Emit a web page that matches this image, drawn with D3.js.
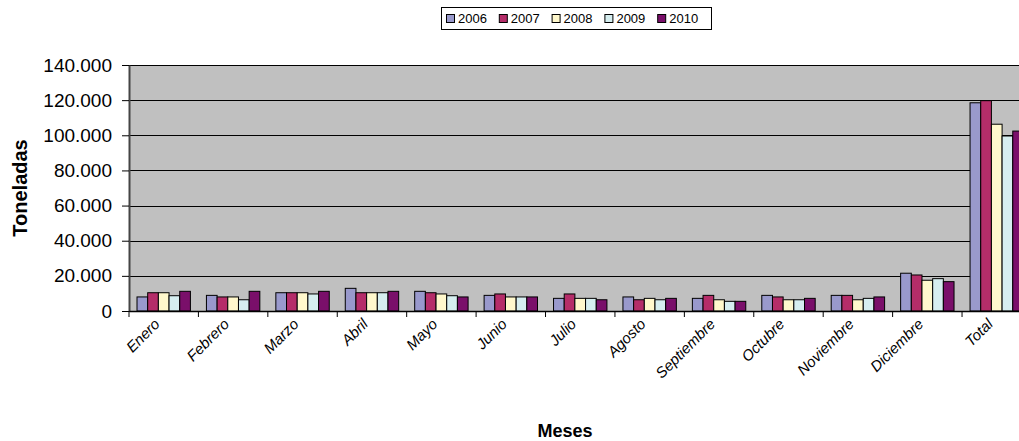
<!DOCTYPE html>
<html><head><meta charset="utf-8">
<script src="https://cdn.jsdelivr.net/npm/d3@7"></script>
<style>body{margin:0;background:#fff}svg{display:block;font-family:"Liberation Sans",Arial,sans-serif}</style>
</head><body>
<svg id="c" width="1019" height="441"></svg>
<script>
const categories = ["Enero","Febrero","Marzo","Abril","Mayo","Junio","Julio","Agosto","Septiembre","Octubre","Noviembre","Diciembre","Total"];
const series = ["2006","2007","2008","2009","2010"];
const v2006 = [8000, 8900, 10400, 12900, 11200, 8900, 7200, 8000, 7200, 8900, 8900, 21500, 118500];
const v2007 = [10400, 8000, 10400, 10400, 10400, 9700, 9700, 6400, 8900, 8000, 8900, 20500, 119700];
const v2008 = [10400, 8000, 10400, 10400, 9700, 8000, 7200, 7200, 6400, 6400, 6400, 17500, 106300];
const v2009 = [8700, 6400, 9700, 10400, 8700, 8000, 7200, 6400, 5500, 6400, 7200, 18400, 99600];
const v2010 = [11200, 11200, 11200, 11200, 8000, 8000, 6400, 7200, 5500, 7200, 8000, 16700, 102400];
const yTicks = [0, 20000, 40000, 60000, 80000, 100000, 120000, 140000];
const colors = ["#9999CC", "#B52D69", "#FFF8CC", "#D6EEF0", "#7A0F6A"];
const seriesValues = [v2006, v2007, v2008, v2009, v2010];

(function () {
const svg = d3.select("#c");
const pLeft = 129, pTop = 65, pBottom = 311, step = 69.42;
const pRight = pLeft + step * categories.length;

const x = d3.scaleBand().domain(categories).range([pLeft, pRight]).padding(0);
const xs = d3.scaleBand().domain(series).range([0, x.bandwidth()]).paddingInner(0).paddingOuter(0.75);
const y = d3.scaleLinear().domain([0, 140000]).range([pBottom, pTop]);
const loc = d3.formatLocale({decimal: ",", thousands: ".", grouping: [3], currency: ["", ""]});
const fmt = loc.format(",");

svg.append("rect").attr("x", pLeft).attr("y", pTop).attr("width", pRight - pLeft).attr("height", pBottom - pTop).attr("fill", "#C0C0C0");

svg.append("g").selectAll("line").data(yTicks).join("line")
  .attr("x1", pLeft).attr("x2", pRight)
  .attr("y1", d => Math.round(y(d)) + 0.5).attr("y2", d => Math.round(y(d)) + 0.5)
  .attr("stroke", "#000").attr("stroke-width", 1);

const rows = [];
categories.forEach((c, i) => series.forEach((s, j) => rows.push({c, s, j, v: seriesValues[j][i]})));
svg.append("g").selectAll("rect").data(rows).join("rect")
  .attr("x", d => x(d.c) + xs(d.s))
  .attr("y", d => y(d.v))
  .attr("width", xs.bandwidth())
  .attr("height", d => y(0) - y(d.v))
  .attr("fill", d => colors[d.j])
  .attr("stroke", "#000").attr("stroke-width", 1);

const ya = svg.append("g").attr("transform", `translate(${pLeft},0)`)
  .call(d3.axisLeft(y).tickValues(yTicks).tickFormat(fmt).tickSizeInner(7).tickSizeOuter(0).tickPadding(10));
ya.select(".domain").attr("stroke", "#444").attr("stroke-width", 2);
ya.selectAll(".tick line").attr("stroke", "#000");
ya.selectAll("text").attr("font-size", 19).attr("fill", "#000").attr("font-family", "Liberation Sans, Arial, sans-serif");

const xa = svg.append("g").attr("transform", `translate(0,${pBottom})`)
  .call(d3.axisBottom(x).tickSize(0).tickFormat(d => d));
xa.select(".domain").attr("stroke", "#000").attr("stroke-width", 1.5);
xa.selectAll(".tick text")
  .attr("font-size", 15).attr("font-style", "italic").attr("fill", "#000")
  .attr("font-family", "Liberation Sans, Arial, sans-serif")
  .attr("text-anchor", "end").attr("dy", null).attr("y", 0)
  .attr("transform", "translate(-3,14) rotate(-45)");
svg.append("g").selectAll("line").data(categories).join("line")
  .attr("x1", d => x(d)).attr("x2", d => x(d))
  .attr("y1", pBottom).attr("y2", pBottom + 6)
  .attr("stroke", "#000");

svg.append("text").attr("x", 565).attr("y", 437).attr("text-anchor", "middle")
  .attr("font-weight", "bold").attr("font-size", 18).text("Meses");
svg.append("text").attr("transform", "translate(27,188) rotate(-90)").attr("text-anchor", "middle")
  .attr("font-weight", "bold").attr("font-size", 20).text("Toneladas");

const lg = svg.append("g");
lg.append("rect").attr("x", 441.5).attr("y", 7.5).attr("width", 270).attr("height", 22).attr("fill", "#fff").attr("stroke", "#000");
const lx = d3.scaleBand().domain(series).range([446, 710]);
const items = lg.selectAll("g").data(series).join("g").attr("transform", d => `translate(${lx(d)},0)`);
items.append("rect").attr("x", 0.5).attr("y", 14.5).attr("width", 8).attr("height", 8)
  .attr("fill", (d, i) => colors[i]).attr("stroke", "#000");
items.append("text").attr("x", 12).attr("y", 23).attr("font-size", 13).text(d => d);
})();
</script>
</body></html>
